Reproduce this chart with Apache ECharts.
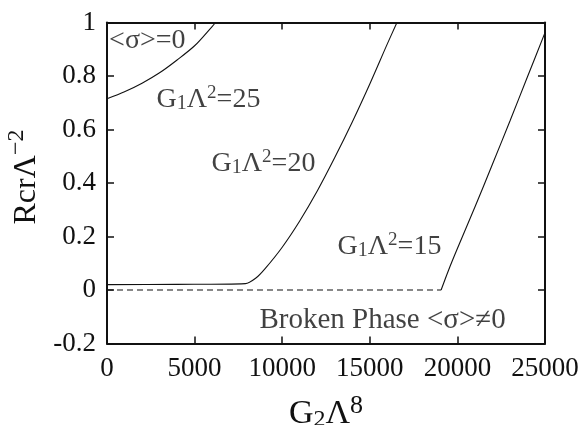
<!DOCTYPE html>
<html>
<head>
<meta charset="utf-8">
<script src="https://cdn.jsdelivr.net/npm/echarts@6/dist/echarts.min.js"></script>
<style>
  html, body { margin: 0; padding: 0; background: #fff; }
  #chart { width: 585px; height: 425px; }
</style>
</head>
<body>
<div id="chart"></div>
<script>
// Critical radius R_cr Λ^-2 versus G2 Λ^8 for three values of G1 Λ^2
const xTicks = { min: 0, max: 25000, step: 5000 };
const yTicks = { min: -0.2, max: 1, step: 0.2 };

// G1Λ² = 25
const curve25 = [[0, 0.715], [1000, 0.741], [2000, 0.773], [3000, 0.812], [4000, 0.86],
                 [5000, 0.913], [6000, 0.985], [6200, 1.0]];
// G1Λ² = 20
const curve20 = [[0, 0.02], [4000, 0.021], [7900, 0.024], [8500, 0.045], [9000, 0.078],
                 [10000, 0.16], [11000, 0.258], [12000, 0.37], [13000, 0.495],
                 [14000, 0.628], [15000, 0.77], [16000, 0.92], [16550, 1.0]];
// G1Λ² = 15
const curve15 = [[19070, 0], [19500, 0.075], [20000, 0.155], [21000, 0.31], [22000, 0.47],
                 [23000, 0.632], [24000, 0.797], [25000, 0.962]];
// boundary of the broken phase
const brokenEdge = [[0, 0], [19070, 0]];

// annotation texts and their anchor points (data units, left edge of text)
const noteTexts = [
  '{t|<σ>=0}',
  '{t|G}{sub|1}{t|Λ}{sup|2}{t|=25}',
  '{t|G}{sub|1}{t|Λ}{sup|2}{t|=20}',
  '{t|G}{sub|1}{t|Λ}{sup|2}{t|=15}',
  '{w|Broken Phase <σ>≠0}'
];
const noteAnchors = [[120, 0.935], [2830, 0.715], [5970, 0.475], [13160, 0.165], [8700, -0.11]];

const serif = '"Liberation Serif", "DejaVu Serif", serif';
const ink = '#111';

const chart = echarts.init(document.getElementById('chart'), null, { renderer: 'canvas' });

function frameAxis(extra) {
  return Object.assign({
    type: 'value',
    axisLine: { show: true, onZero: false, lineStyle: { color: ink, width: 2 } },
    axisTick: { show: true, inside: true, length: 7, lineStyle: { color: ink, width: 1.5 } },
    splitLine: { show: false },
    axisLabel: { show: false }
  }, extra);
}

const tickLabel = {
  show: true, color: ink, fontFamily: serif, fontSize: 27, margin: 10,
  formatter: v => String(Math.round(v * 10) / 10)
};

const option = {
  animation: false,
  backgroundColor: '#fff',
  grid: {
    left: 107, right: 40, top: 22.5, bottom: 81.5,
    containLabel: false, outerBoundsMode: 'none'
  },
  xAxis: [
    frameAxis({
      min: xTicks.min, max: xTicks.max, interval: xTicks.step, position: 'bottom',
      axisLabel: Object.assign({}, tickLabel, { margin: 12 }),
      name: '{m|G}{sub|2}{m|Λ}{sup|8}',
      nameLocation: 'middle', nameGap: 50,
      nameTextStyle: {
        fontFamily: serif, color: ink,
        rich: {
          m: { fontFamily: serif, fontSize: 34, color: ink, lineHeight: 38, verticalAlign: 'bottom' },
          sub: { fontFamily: serif, fontSize: 24, color: ink, lineHeight: 38, verticalAlign: 'bottom' },
          sup: { fontFamily: serif, fontSize: 26, color: ink, lineHeight: 26, verticalAlign: 'top' }
        }
      }
    }),
    frameAxis({ min: xTicks.min, max: xTicks.max, interval: xTicks.step, position: 'top' })
  ],
  yAxis: [
    frameAxis({
      min: yTicks.min, max: yTicks.max, interval: yTicks.step, position: 'left',
      axisLabel: Object.assign({}, tickLabel, { margin: 11 }),
      name: '{m|Rcr}{m|Λ}{sup|−2}',
      nameLocation: 'middle', nameGap: 52, nameRotate: 90,
      nameTextStyle: {
        fontFamily: serif, color: ink,
        padding: [0, 0, 0, 12],
        rich: {
          m: { fontFamily: serif, fontSize: 32, color: ink, lineHeight: 38, verticalAlign: 'bottom' },
          sup: { fontFamily: serif, fontSize: 24, color: ink, lineHeight: 24, verticalAlign: 'top' }
        }
      }
    }),
    frameAxis({ min: yTicks.min, max: yTicks.max, interval: yTicks.step, position: 'right' })
  ],
  series: [
    {
      type: 'line', data: curve25, smooth: 0.3, symbol: 'none',
      lineStyle: { color: ink, width: 1.1 }
    },
    {
      type: 'line', data: curve20, smooth: 0.3, symbol: 'none',
      lineStyle: { color: ink, width: 1.1 }
    },
    {
      type: 'line', data: curve15, smooth: 0.3, symbol: 'none',
      lineStyle: { color: ink, width: 1.1 }
    },
    {
      type: 'line', data: brokenEdge, symbol: 'none',
      lineStyle: { color: ink, width: 1.1, type: [6, 4] }
    },
    {
      type: 'scatter', symbolSize: 0, silent: true,
      data: noteAnchors.map((p, i) => ({ value: p, text: noteTexts[i] })),
      label: {
        show: true, position: 'right', distance: 0,
        formatter: p => p.data.text,
        color: ink, fontFamily: serif,
        rich: {
          t: { fontFamily: serif, fontSize: 28, color: ink, lineHeight: 30, verticalAlign: 'bottom' },
          w: { fontFamily: serif, fontSize: 29, color: ink, lineHeight: 30, verticalAlign: 'bottom' },
          sub: { fontFamily: serif, fontSize: 20, color: ink, lineHeight: 20, verticalAlign: 'bottom' },
          sup: { fontFamily: serif, fontSize: 19, color: ink, lineHeight: 19, verticalAlign: 'top' }
        }
      }
    }
  ]
};

chart.setOption(option);
</script>
</body>
</html>
